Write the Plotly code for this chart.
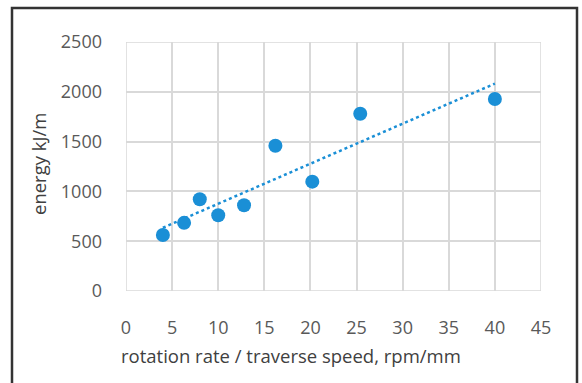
import plotly.graph_objects as go

# Data
ratio = [4.0, 6.3, 8.0, 10.0, 12.8, 16.2, 20.2, 25.4, 40.0]
energy = [562, 684, 921, 761, 861, 1458, 1098, 1779, 1928]
trend_x = [4.0, 40.0]
trend_y = [635, 2082]
x_ticks = [0, 5, 10, 15, 20, 25, 30, 35, 40, 45]
y_ticks = [0, 500, 1000, 1500, 2000, 2500]

BLUE = "#1a8fd6"
GRID = "#d9d9d9"
TXT = "#595959"
FONT = "Open Sans"

W, H = 582, 383
L, R, T, B = 126, 41, 42, 92
pw, ph = W - L - R, H - T - B

def px(x):
    return (x - L) / pw

def py(y):
    return (H - B - y) / ph

fig = go.Figure()
fig.add_trace(go.Scatter(x=trend_x, y=trend_y, mode="lines",
                         line=dict(color=BLUE, width=2.5, dash="dot"),
                         hoverinfo="skip", showlegend=False))
fig.add_trace(go.Scatter(x=ratio, y=energy, mode="markers",
                         marker=dict(color=BLUE, size=14),
                         showlegend=False))

axis_common = dict(showgrid=True, gridcolor=GRID, gridwidth=1.5,
                   zeroline=False, showline=False,
                   tickfont=dict(family=FONT, size=18, color=TXT),
                   ticks="")
fig.update_xaxes(range=[0, 45], tickvals=x_ticks, ticklabelstandoff=24, **axis_common)
fig.update_yaxes(range=[0, 2500], tickvals=y_ticks, ticklabelstandoff=23, **axis_common)

# plot-area border made of gridline colour at 45 and 2500
fig.add_shape(type="rect", xref="x", yref="y", x0=0, x1=45, y0=0, y1=2500,
              line=dict(color=GRID, width=1.5), layer="below")

# outer chart frame
fig.add_shape(type="rect", xref="paper", yref="paper",
              x0=px(12), x1=px(577), y0=py(8), y1=py(390),
              line=dict(color="#333333", width=2.5))

fig.add_annotation(text="rotation rate / traverse speed, rpm/mm",
                   xref="paper", yref="paper", x=px(290.5), y=py(355),
                   xanchor="center", yanchor="middle", showarrow=False,
                   font=dict(family=FONT, size=18.5, color="#404040"))
fig.add_annotation(text="energy kJ/m", textangle=-90,
                   xref="paper", yref="paper", x=px(38), y=py(164),
                   xanchor="center", yanchor="middle", showarrow=False,
                   font=dict(family=FONT, size=18.5, color="#404040"))

fig.update_layout(width=W, height=H, margin=dict(l=L, r=R, t=T, b=B),
                  paper_bgcolor="white", plot_bgcolor="white")
fig.write_html("out.html")
